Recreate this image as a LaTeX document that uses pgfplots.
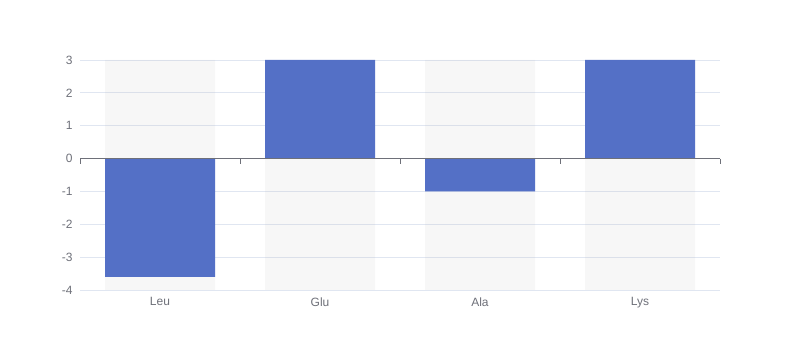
\documentclass[border=0pt]{standalone}
\usepackage{pgfplots}
\pgfplotsset{compat=1.18}
\usepackage{fontspec}
\setmainfont{Liberation Sans}
\definecolor{barblue}{HTML}{5470C6}
\definecolor{gridc}{HTML}{E0E6F1}
\definecolor{axisc}{HTML}{6E7079}
\definecolor{bgbar}{HTML}{B4B4B4}
\begin{document}
\begin{tikzpicture}
\path (0bp,0bp) rectangle (800bp,360bp);
\begin{axis}[
  at={(80bp,70bp)}, anchor=south west,
  scale only axis, width=640bp, height=230bp,
  xmin=-0.5, xmax=3.5, ymin=-4, ymax=3,
  xtick={0,1,2,3}, xticklabels={Leu,Glu,Ala,Lys},
  ytick={-4,-3,-2,-1,0,1,2,3},
  major tick length=0pt,
  ymajorgrids, grid style={gridc, line width=0.75bp},
  axis line style={draw=none},
  tick label style={font=\fontsize{12bp}{14bp}\selectfont, text=axisc},
  /pgf/number format/assume math mode=true,
  yticklabel style={xshift=-4bp},
  xticklabel style={yshift=-4bp},
  xtick pos=bottom, ytick pos=left,
  clip=false,
]
% background bars
\addplot[ybar, bar width=0.6875, bar shift=0, draw=none, fill=bgbar, fill opacity=0.1]
  coordinates {(0,3) (1,3) (2,3) (3,3)};
\addplot[ybar, bar width=0.6875, bar shift=0, draw=none, fill=bgbar, fill opacity=0.1]
  coordinates {(0,-4) (1,-4) (2,-4) (3,-4)};
% data bars
\addplot[ybar, bar width=0.6875, bar shift=0, draw=none, fill=barblue]
  coordinates {(0,-3.6) (1,3) (2,-1) (3,3)};
% bottom line at -4
\draw[gridc, line width=1bp] (axis cs:-0.5,-4) -- (axis cs:3.5,-4);
% zero axis line
\draw[axisc, line width=1bp] (axis cs:-0.5,0) -- (axis cs:3.5,0);
\pgfplotsinvokeforeach{-0.5,0.5,1.5,2.5,3.5}{
  \draw[axisc, line width=1bp] (axis cs:#1,0) -- ([yshift=-5bp]axis cs:#1,0);
}
\end{axis}
\end{tikzpicture}
\end{document}
